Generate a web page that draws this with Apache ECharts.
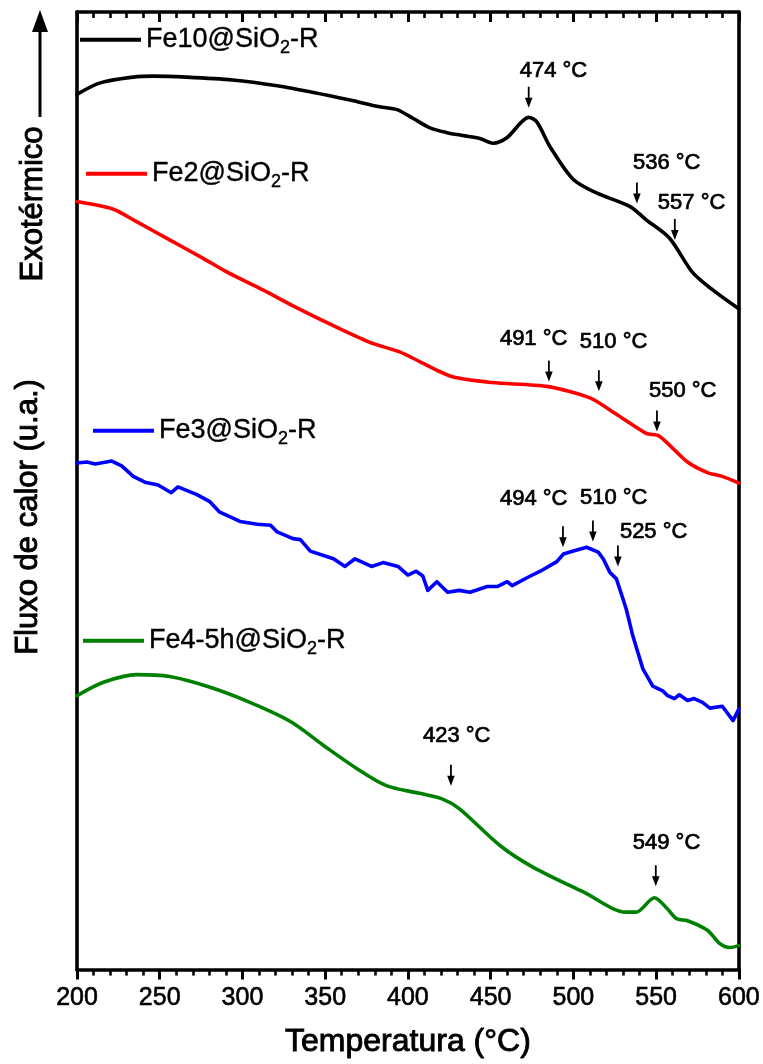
<!DOCTYPE html>
<html>
<head>
<meta charset="utf-8">
<script src="https://cdn.jsdelivr.net/npm/echarts@6/dist/echarts.min.js"></script>
<style>
html,body{margin:0;padding:0;background:#fff;}
#chart{width:763px;height:1064px;}
</style>
</head>
<body>
<div id="chart"></div>
<script>
// ---------- data (temperature in °C, heat flow in arbitrary units) ----------
const seriesNames = ['Fe10@SiO2-R', 'Fe2@SiO2-R', 'Fe3@SiO2-R', 'Fe4-5h@SiO2-R'];
const seriesColors = ['#000000', '#ff0000', '#0000ff', '#008000'];

const fe10T = [200, 214, 234, 246, 266, 294, 321, 343, 365, 383, 393.4, 403, 413.3, 423.6, 433.2, 443.5, 451.4, 460, 468, 473, 478, 486, 500, 514, 534, 544, 558, 572, 584, 600];
const fe10Y = [91.4, 92.6, 93.2, 93.3, 93.2, 92.9, 92.3, 91.6, 90.8, 90.1, 89.8, 88.9, 87.9, 87.4, 87.1, 86.8, 86.3, 86.9, 88.4, 89.0, 88.5, 85.9, 82.5, 81.1, 79.7, 78.3, 76.4, 72.8, 71.0, 69.0];

const fe2T = [200, 222, 236, 256, 276, 291, 312, 333, 353, 377, 395, 407, 427, 451, 484, 510, 526, 544, 552, 569, 581, 590, 600];
const fe2Y = [80.2, 79.4, 78.1, 76.2, 74.3, 72.8, 71.0, 69.1, 67.4, 65.5, 64.5, 63.5, 61.9, 61.3, 60.9, 59.7, 58.0, 56.0, 55.7, 53.0, 51.9, 51.5, 50.8];

const fe3T = [200, 206, 211, 221, 227, 234, 241, 249, 257, 261, 272.5, 280, 286, 298.5, 309, 317, 321, 330.5, 335, 341, 355, 362, 368, 378, 385, 394, 400, 405, 409, 412, 417.5, 424, 431, 437.5, 448, 454, 460, 463, 474, 480, 490, 494, 500, 508, 515, 518, 522, 526, 530, 532, 536, 542, 548, 554, 557, 561, 564, 569, 573, 578, 582.5, 590, 596.5, 600];
const fe3Y = [52.9, 53.0, 52.8, 53.1, 52.6, 51.5, 50.9, 50.6, 49.8, 50.4, 49.6, 48.9, 47.8, 46.8, 46.5, 46.4, 45.7, 45.0, 44.9, 43.7, 42.9, 42.1, 42.9, 42.1, 42.5, 42.1, 41.2, 41.6, 41.1, 39.6, 40.5, 39.4, 39.6, 39.4, 40.0, 40.0, 40.5, 40.1, 41.1, 41.6, 42.6, 43.4, 43.7, 44.1, 43.6, 42.9, 41.5, 40.8, 38.7, 37.6, 34.8, 31.4, 29.6, 29.1, 28.6, 28.3, 28.7, 28.1, 28.3, 27.9, 27.3, 27.5, 26.0, 27.2];

const fe4T = [200, 216, 236, 256, 280, 304.5, 329, 349, 369, 387, 407, 421, 431, 456, 475.5, 506, 532, 538, 549, 556.5, 562.5, 569, 581, 588.5, 594.5, 600];
const fe4Y = [28.6, 30.0, 30.8, 30.6, 29.5, 27.9, 25.9, 23.4, 21.0, 19.2, 18.4, 17.8, 16.8, 12.9, 10.7, 8.1, 6.0, 6.0, 7.5, 6.4, 5.3, 5.1, 4.1, 2.7, 2.3, 2.5];

const xTickMin = 200, xTickMax = 600, xTickStep = 50;

// peak annotations: arrow tip position (°C, a.u.) and label text
const annoT = [473, 538.4, 561.3, 485.2, 515.4, 550.5, 493.7, 511.8, 526.9, 426.0, 549.8];
const annoY = [90.0, 80.0, 76.2, 61.4, 60.4, 56.2, 44.1, 44.7, 42.1, 19.2, 8.7];
const annoText = ['474 °C', '536 °C', '557 °C', '491 °C', '510 °C', '550 °C', '494 °C', '510 °C', '525 °C', '423 °C', '549 °C'];

// ---------- layout (pixel offsets of labels from arrow tips, legend spots) ----------
const annoLabelOffset = [[-9, -37], [-4, -41], [-17, -37], [-49, -43], [-19, -49], [-8, -40], [-63, -48], [-13, -44], [2, -34], [-28, -50], [-23, -43]];
const legendSpots = [[80, 26], [86, 160], [93, 417], [83, 627]];

const FONT = '"Liberation Sans", Arial, sans-serif';

function pairs(t, y) { return t.map((v, i) => [v, y[i]]); }
const allData = [pairs(fe10T, fe10Y), pairs(fe2T, fe2Y), pairs(fe3T, fe3Y), pairs(fe4T, fe4Y)];
const smoothing = [0.3, 0.25, 0, 0.3];

const chart = echarts.init(document.getElementById('chart'), null, {renderer: 'canvas'});

const lineSeries = seriesNames.map((n, i) => ({
  name: n,
  type: 'line',
  data: allData[i],
  showSymbol: false,
  symbol: 'none',
  smooth: smoothing[i],
  color: seriesColors[i],
  lineStyle: {color: seriesColors[i], width: 3.6, join: 'round', cap: 'round'},
  silent: true,
  z: 3
}));

const annoSeries = {
  type: 'custom',
  name: 'annotations',
  coordinateSystem: 'cartesian2d',
  silent: true,
  z: 5,
  data: annoT.map((t, i) => [t, annoY[i], i]),
  renderItem: function (params, api) {
    const p = api.coord([api.value(0), api.value(1)]);
    const i = api.value(2);
    const off = annoLabelOffset[i];
    return {
      type: 'group',
      children: [
        {type: 'line', shape: {x1: p[0], y1: p[1] - 21, x2: p[0], y2: p[1] - 7}, style: {stroke: '#000', lineWidth: 1.8}},
        {type: 'polygon', shape: {points: [[p[0] - 3.8, p[1] - 10], [p[0] + 3.8, p[1] - 10], [p[0], p[1]]]}, style: {fill: '#000'}},
        {type: 'text', x: p[0] + off[0], y: p[1] + off[1],
          style: {text: annoText[i], fill: '#000', fontSize: 22, fontFamily: FONT, align: 'left', verticalAlign: 'middle', stroke: '#000', lineWidth: 0.7}}
      ]
    };
  }
};

const legends = seriesNames.map((n, i) => ({
  data: [n],
  left: legendSpots[i][0],
  top: legendSpots[i][1],
  orient: 'horizontal',
  padding: 0,
  icon: 'rect',
  itemWidth: 61,
  itemHeight: 4,
  selectedMode: false,
  formatter: function (name) {
    return '{a|' + name.replace('SiO2', 'SiO}{s|2}{a|') + '}';
  },
  textStyle: {
    color: '#000',
    fontFamily: FONT,
    fontSize: 27,
    rich: {
      a: {fontSize: 27, fontFamily: FONT, color: '#000', lineHeight: 34, textBorderColor: '#000', textBorderWidth: 0.4},
      s: {fontSize: 18, fontFamily: FONT, color: '#000', lineHeight: 12, verticalAlign: 'bottom', textBorderColor: '#000', textBorderWidth: 0.4}
    }
  }
}));

const option = {
  animation: false,
  backgroundColor: '#fff',
  grid: {left: 77, right: 24, top: 12, bottom: 93, containLabel: false},
  legend: legends,
  xAxis: [
    {
      type: 'value', position: 'bottom', min: xTickMin, max: xTickMax, interval: xTickStep,
      name: 'Temperatura (°C)', nameLocation: 'middle', nameGap: 57,
      nameTextStyle: {fontSize: 32, fontFamily: FONT, color: '#000', textBorderColor: '#000', textBorderWidth: 0.9},
      axisLine: {show: true, onZero: false, lineStyle: {color: '#000', width: 3.6}},
      axisTick: {show: true, inside: false, length: 10, lineStyle: {color: '#000', width: 3}},
      minorTick: {show: true, splitNumber: 5, length: 6, lineStyle: {color: '#000', width: 2.6}},
      axisLabel: {show: true, margin: 16, fontSize: 25, fontFamily: FONT, color: '#000', textBorderColor: '#000', textBorderWidth: 0.6},
      splitLine: {show: false}, minorSplitLine: {show: false}
    },
    {
      type: 'value', position: 'top', min: xTickMin, max: xTickMax, interval: xTickStep,
      axisLine: {show: true, onZero: false, lineStyle: {color: '#000', width: 3.6}},
      axisTick: {show: true, inside: true, length: 10, lineStyle: {color: '#000', width: 3}},
      minorTick: {show: true, splitNumber: 5, length: 6, lineStyle: {color: '#000', width: 2.6}},
      axisLabel: {show: false},
      splitLine: {show: false}, minorSplitLine: {show: false}
    }
  ],
  yAxis: [
    {
      type: 'value', position: 'left', min: 0, max: 100,
      axisLine: {show: true, onZero: false, lineStyle: {color: '#000', width: 3.6}},
      axisTick: {show: false}, axisLabel: {show: false}, splitLine: {show: false}
    },
    {
      type: 'value', position: 'right', min: 0, max: 100,
      axisLine: {show: true, onZero: false, lineStyle: {color: '#000', width: 3.6}},
      axisTick: {show: false}, axisLabel: {show: false}, splitLine: {show: false}
    }
  ],
  graphic: [
    {type: 'line', shape: {x1: 40, y1: 117, x2: 40, y2: 28}, style: {stroke: '#000', lineWidth: 3}},
    {type: 'polygon', shape: {points: [[32, 32], [48, 32], [40, 10]]}, style: {fill: '#000'}},
    {type: 'text', x: 33, y: 204, rotation: Math.PI / 2,
      style: {text: 'Exotérmico', fill: '#000', fontSize: 31, fontFamily: FONT, align: 'center', verticalAlign: 'middle', stroke: '#000', lineWidth: 0.9}},
    {type: 'text', x: 28, y: 517, rotation: Math.PI / 2,
      style: {text: 'Fluxo de calor (u.a.)', fill: '#000', fontSize: 31, fontFamily: FONT, align: 'center', verticalAlign: 'middle', stroke: '#000', lineWidth: 0.9}}
  ],
  series: lineSeries.concat([annoSeries])
};

chart.setOption(option);
</script>
</body>
</html>
